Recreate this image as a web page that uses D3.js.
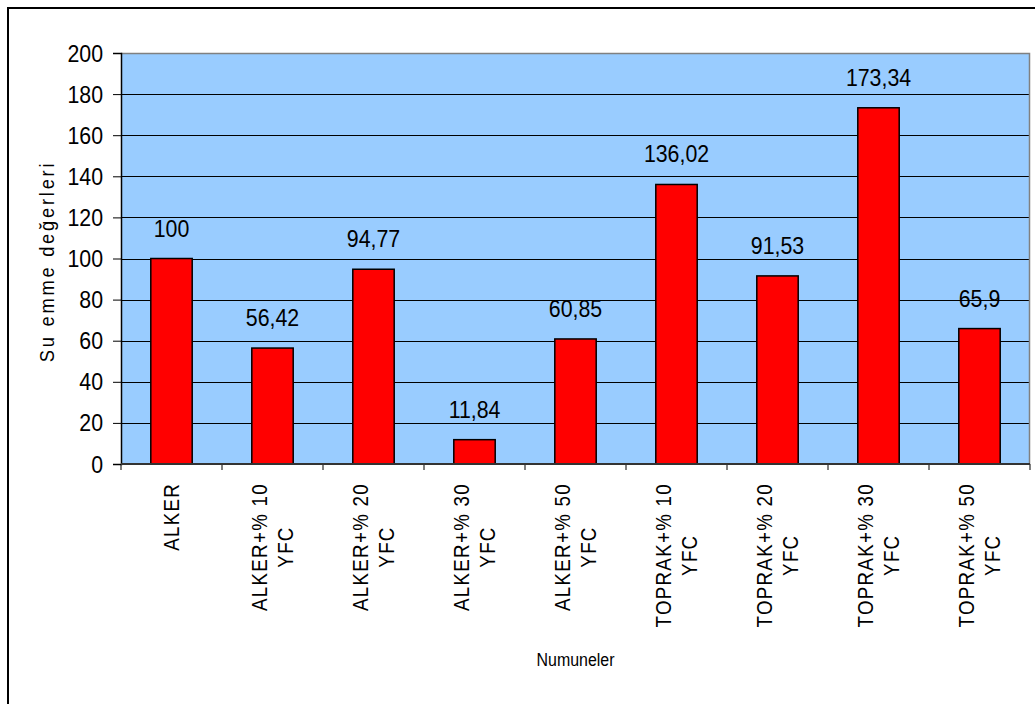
<!DOCTYPE html>
<html>
<head>
<meta charset="utf-8">
<script src="https://cdn.jsdelivr.net/npm/d3@7"></script>
<style>
  html, body { margin: 0; padding: 0; background: #fff; }
  svg { display: block; font-family: "Liberation Sans", Arial, sans-serif; }
</style>
</head>
<body>
<svg id="chart" width="1035" height="704"></svg>
<script>
// Sample names (each entry is split into the lines shown under the axis)
const categories = [
  ["ALKER"],
  ["ALKER+% 10", "YFC"],
  ["ALKER+% 20", "YFC"],
  ["ALKER+% 30", "YFC"],
  ["ALKER+% 50", "YFC"],
  ["TOPRAK+% 10", "YFC"],
  ["TOPRAK+% 20", "YFC"],
  ["TOPRAK+% 30", "YFC"],
  ["TOPRAK+% 50", "YFC"]
];
// Water absorption values
const values = [100, 56.42, 94.77, 11.84, 60.85, 136.02, 91.53, 173.34, 65.9];
const yTicks = [0, 20, 40, 60, 80, 100, 120, 140, 160, 180, 200];
const yTitle = "Su emme değerleri";
const xTitle = "Numuneler";

const svg = d3.select("#chart");
const W = 1035, H = 704;
const plot = { left: 121, right: 1030, top: 53, bottom: 464 };
const SX = 0.87; // horizontal condensing of the chart lettering

// Outer chart frame (extends past the right and bottom edges)
svg.append("rect")
  .attr("x", 8).attr("y", 8)
  .attr("width", W + 20).attr("height", H + 20)
  .attr("fill", "#fff").attr("stroke", "#000").attr("stroke-width", 2);

const keys = categories.map((c, i) => i);
const x = d3.scaleBand().domain(keys).range([plot.left, plot.right]).paddingInner(0.59).paddingOuter(0.295);
const xb = d3.scaleBand().domain(keys).range([plot.left, plot.right]).padding(0);
const y = d3.scaleLinear().domain([0, 200]).range([plot.bottom, plot.top]);

// Plot background
svg.append("rect")
  .attr("x", plot.left).attr("y", plot.top)
  .attr("width", plot.right - plot.left).attr("height", plot.bottom - plot.top)
  .attr("fill", "#99CCFF");

// Horizontal gridlines
svg.append("g").selectAll("line")
  .data(yTicks.filter(t => t > 0 && t < 200))
  .join("line")
  .attr("x1", plot.left).attr("x2", plot.right)
  .attr("y1", d => Math.round(y(d)) + 0.5).attr("y2", d => Math.round(y(d)) + 0.5)
  .attr("stroke", "#000").attr("stroke-width", 1);

// Top and right plot border
svg.append("path")
  .attr("d", `M${plot.left},${plot.top + 0.5}H${plot.right - 0.5}V${plot.bottom}`)
  .attr("fill", "none").attr("stroke", "#808080").attr("stroke-width", 1.5);

// Bars
svg.append("g").selectAll("rect")
  .data(values)
  .join("rect")
  .attr("x", (d, i) => x(i))
  .attr("width", x.bandwidth())
  .attr("y", d => y(d))
  .attr("height", d => y(0) - y(d))
  .attr("fill", "#FF0000")
  .attr("stroke", "#000").attr("stroke-width", 1.5);

// Value labels
svg.append("g").selectAll("text")
  .data(values)
  .join("text")
  .attr("transform", (d, i) => `translate(${x(i) + x.bandwidth() / 2},${y(d) - 22}) scale(${SX},1)`)
  .attr("text-anchor", "middle")
  .attr("font-size", 24.5)
  .attr("fill", "#000")
  .text(d => String(d).replace(".", ","));

// Y axis line and ticks
const yAxis = d3.axisLeft(y).tickValues(yTicks).tickSize(8).tickFormat("");
const gy = svg.append("g").attr("transform", `translate(${plot.left},0)`).call(yAxis);
gy.select(".domain").attr("stroke", "#000").attr("stroke-width", 1.5);
gy.selectAll(".tick line").attr("stroke", "#000");

// Y tick labels
svg.append("g").selectAll("text")
  .data(yTicks)
  .join("text")
  .attr("transform", d => `translate(${plot.left - 18},${y(d) + 8.5}) scale(${SX},1)`)
  .attr("text-anchor", "end")
  .attr("font-size", 24.5)
  .attr("fill", "#000")
  .text(d3.format("d"));

// X axis baseline and ticks at category boundaries
const boundaries = keys.map(i => xb(i)).concat([plot.right]);
svg.append("g").selectAll("line")
  .data(boundaries)
  .join("line")
  .attr("x1", d => d).attr("x2", d => d)
  .attr("y1", plot.bottom).attr("y2", plot.bottom + 6)
  .attr("stroke", "#000").attr("stroke-width", 1);
svg.append("line")
  .attr("x1", plot.left).attr("x2", plot.right)
  .attr("y1", plot.bottom).attr("y2", plot.bottom)
  .attr("stroke", "#333").attr("stroke-width", 2);

// Rotated category labels
const catTop = 483;
const lineGap = 25.5;
const cg = svg.append("g");
categories.forEach((lines, i) => {
  const cx = xb(i) + xb.bandwidth() / 2;
  const g = cg.append("g");
  const texts = lines.map(ln => g.append("text")
    .attr("font-size", 21.5)
    .attr("letter-spacing", 1.5)
    .attr("text-anchor", "middle")
    .attr("fill", "#000")
    .text(ln));
  const maxLen = d3.max(texts, t => t.node().getComputedTextLength()) * SX;
  const n = lines.length;
  texts.forEach((t, j) => {
    const off = (j - (n - 1) / 2) * lineGap;
    // text runs bottom-to-top; the block's top edge sits at catTop
    t.attr("transform", `translate(${cx + off + 7.5},${catTop + maxLen / 2}) rotate(-90) scale(${SX},1)`);
  });
});

// Axis titles
svg.append("text")
  .attr("transform", `translate(54,${(plot.top + plot.bottom) / 2 + 3}) rotate(-90) scale(${SX},1)`)
  .attr("text-anchor", "middle")
  .attr("font-size", 21)
  .attr("letter-spacing", 3.2)
  .attr("fill", "#000")
  .text(yTitle);

svg.append("text")
  .attr("transform", `translate(${(plot.left + plot.right) / 2},666) scale(0.84,1)`)
  .attr("text-anchor", "middle")
  .attr("font-size", 19)
  .attr("fill", "#000")
  .text(xTitle);
</script>
</body>
</html>
